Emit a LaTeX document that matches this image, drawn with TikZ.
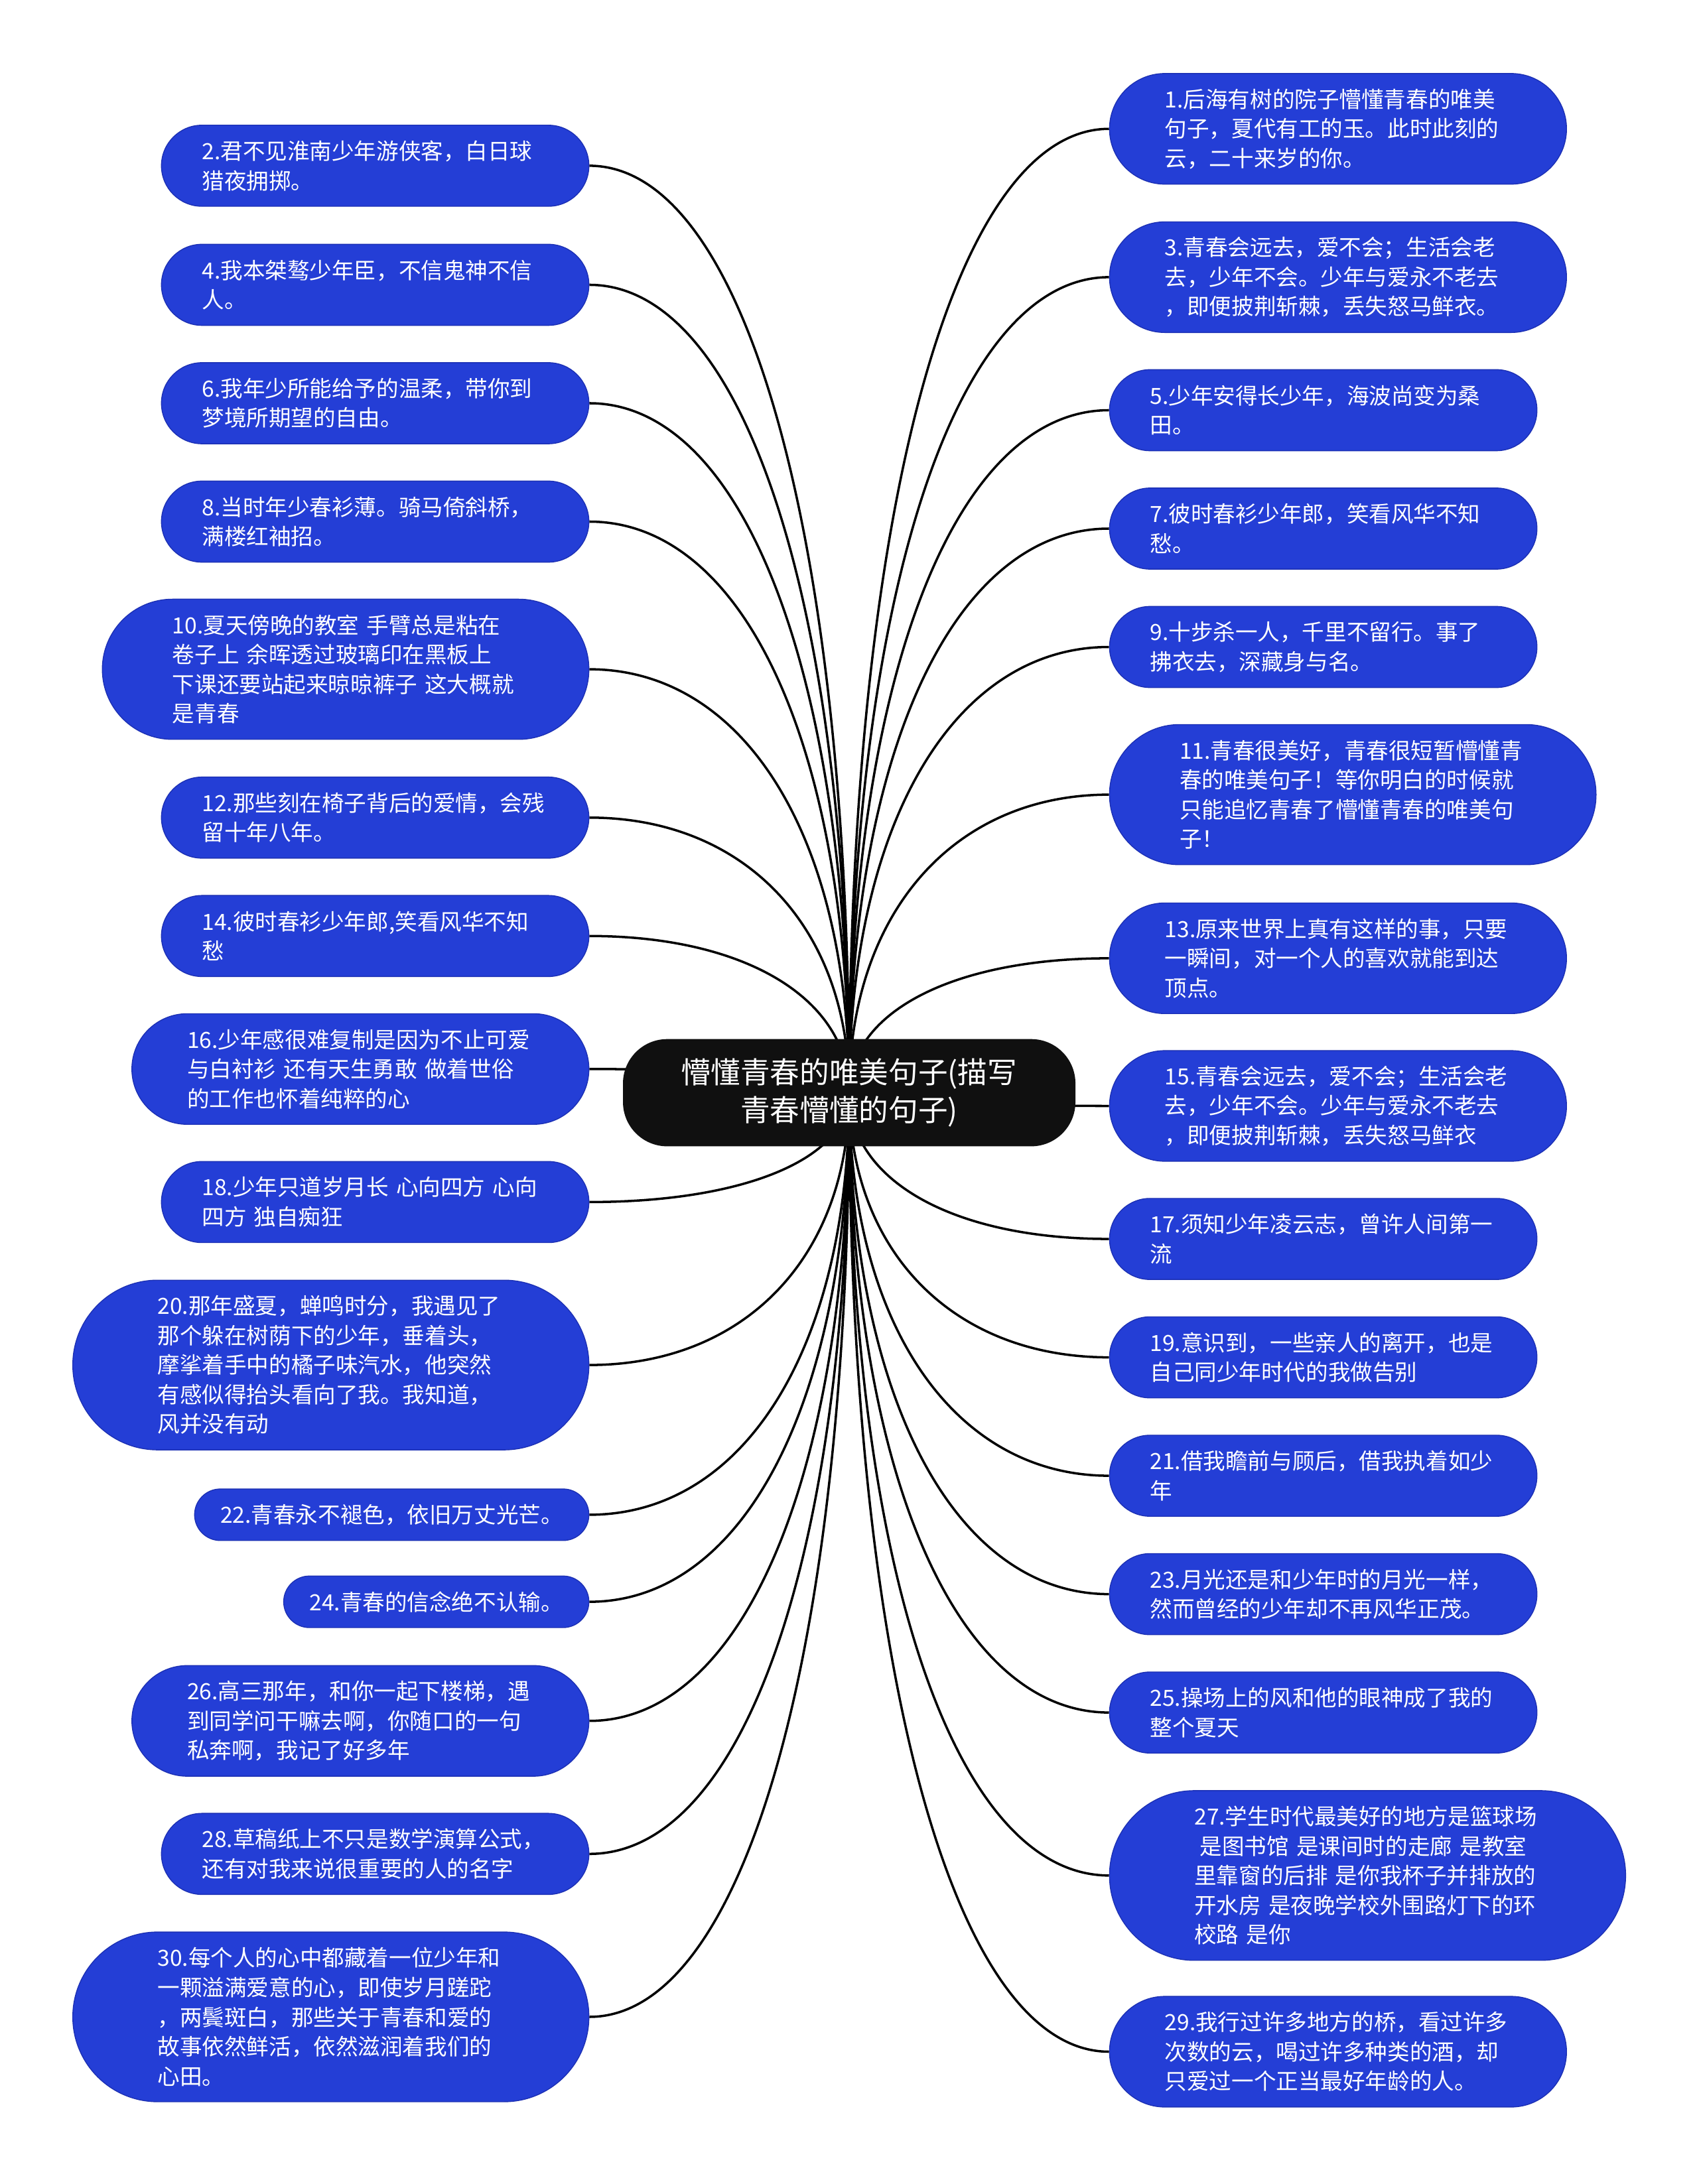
\documentclass[tikz,border=0pt]{standalone}
\usepackage{fontspec}
\setmainfont{Noto Sans CJK SC}
\usetikzlibrary{calc,backgrounds}
\definecolor{leafblue}{RGB}{36,62,214}
\definecolor{leafedge}{RGB}{28,48,180}
\definecolor{rootblack}{RGB}{16,16,16}
\tikzset{
	leaf/.style={fill=leafblue, draw=leafedge, line width=0.4pt, text=white,
		font=\fontsize{9.55pt}{12.67pt}\selectfont, align=left, inner ysep=0pt,
		minimum height={22.1pt+(#1-1)*12.67pt},
		inner xsep={(22.1pt+(#1-1)*12.67pt)/2},
		rounded corners={(22.1pt+(#1-1)*12.67pt)/2}
	},
	wide leaf/.style={leaf=#1, text width=148.5pt},
	root/.style={fill=rootblack, text=white, align=center, inner sep=0pt,
		font=\fontsize{12.7pt}{16.1pt}\selectfont,
		minimum width=194pt, minimum height=46pt, rounded corners=19pt
	},
	link/.style={line width=1pt, black}
}

\begin{document}
\begin{tikzpicture}[x=0.021cm,y=-0.021cm]
		\useasboundingbox (0,0) rectangle (1219,1568);
		\node[root] (root) at (609.5,784.5) {懵懂青春的唯美句子(描写\\青春懵懂的句子)};
		% left side
		\node[wide leaf=2,anchor=east] (l2) at (423,119) {2.君不见淮南少年游侠客，白日球\\猎夜拥掷。};
		\node[wide leaf=2,anchor=east] (l4) at (423,204.5) {4.我本桀骜少年臣，不信鬼神不信\\人。};
		\node[wide leaf=2,anchor=east] (l6) at (423,289.5) {6.我年少所能给予的温柔，带你到\\梦境所期望的自由。};
		\node[wide leaf=2,anchor=east] (l8) at (423,374.5) {8.当时年少春衫薄。骑马倚斜桥，\\满楼红袖招。};
		\node[wide leaf=4,anchor=east] (l10) at (423,480.5) {10.夏天傍晚的教室 手臂总是粘在\\卷子上 余晖透过玻璃印在黑板上\\下课还要站起来晾晾裤子 这大概就\\是青春};
		\node[wide leaf=2,anchor=east] (l12) at (423,587) {12.那些刻在椅子背后的爱情，会残\\留十年八年。};
		\node[wide leaf=2,anchor=east] (l14) at (423,672) {14.彼时春衫少年郎,笑看风华不知\\愁};
		\node[wide leaf=3,anchor=east] (l16) at (423,767.5) {16.少年感很难复制是因为不止可爱\\与白衬衫 还有天生勇敢 做着世俗\\的工作也怀着纯粹的心};
		\node[wide leaf=2,anchor=east] (l18) at (423,863) {18.少年只道岁月长 心向四方 心向\\四方 独自痴狂};
		\node[wide leaf=5,anchor=east] (l20) at (423,980) {20.那年盛夏，蝉鸣时分，我遇见了\\那个躲在树荫下的少年，垂着头，\\摩挲着手中的橘子味汽水，他突然\\有感似得抬头看向了我。我知道，\\风并没有动};
		\node[leaf=1,anchor=east] (l22) at (423,1087.5) {22.青春永不褪色，依旧万丈光芒。};
		\node[leaf=1,anchor=east] (l24) at (423,1150) {24.青春的信念绝不认输。};
		\node[wide leaf=3,anchor=east] (l26) at (423,1235.5) {26.高三那年，和你一起下楼梯，遇\\到同学问干嘛去啊，你随口的一句\\私奔啊，我记了好多年};
		\node[wide leaf=2,anchor=east] (l28) at (423,1331) {28.草稿纸上不只是数学演算公式，\\还有对我来说很重要的人的名字};
		\node[wide leaf=5,anchor=east] (l30) at (423,1448) {30.每个人的心中都藏着一位少年和\\一颗溢满爱意的心，即使岁月蹉跎\\，两鬓斑白，那些关于青春和爱的\\故事依然鲜活，依然滋润着我们的\\心田。};
		% right side
		\node[wide leaf=3,anchor=west] (r1) at (796,92.5) {1.后海有树的院子懵懂青春的唯美\\句子，夏代有工的玉。此时此刻的\\云，二十来岁的你。};
		\node[wide leaf=3,anchor=west] (r3) at (796,199) {3.青春会远去，爱不会；生活会老\\去，少年不会。少年与爱永不老去\\，即便披荆斩棘，丢失怒马鲜衣。};
		\node[wide leaf=2,anchor=west] (r5) at (796,294.5) {5.少年安得长少年，海波尚变为桑\\田。};
		\node[wide leaf=2,anchor=west] (r7) at (796,379.5) {7.彼时春衫少年郎，笑看风华不知\\愁。};
		\node[wide leaf=2,anchor=west] (r9) at (796,464.5) {9.十步杀一人，千里不留行。事了\\拂衣去，深藏身与名。};
		\node[wide leaf=4,anchor=west] (r11) at (796,570.5) {11.青春很美好，青春很短暂懵懂青\\春的唯美句子！等你明白的时候就\\只能追忆青春了懵懂青春的唯美句\\子！};
		\node[wide leaf=3,anchor=west] (r13) at (796,688) {13.原来世界上真有这样的事，只要\\一瞬间，对一个人的喜欢就能到达\\顶点。};
		\node[wide leaf=3,anchor=west] (r15) at (796,794) {15.青春会远去，爱不会；生活会老\\去，少年不会。少年与爱永不老去\\，即便披荆斩棘，丢失怒马鲜衣};
		\node[wide leaf=2,anchor=west] (r17) at (796,889.5) {17.须知少年凌云志，曾许人间第一\\流};
		\node[wide leaf=2,anchor=west] (r19) at (796,974.5) {19.意识到，一些亲人的离开，也是\\自己同少年时代的我做告别};
		\node[wide leaf=2,anchor=west] (r21) at (796,1059.5) {21.借我瞻前与顾后，借我执着如少\\年};
		\node[wide leaf=2,anchor=west] (r23) at (796,1144.5) {23.月光还是和少年时的月光一样，\\然而曾经的少年却不再风华正茂。};
		\node[wide leaf=2,anchor=west] (r25) at (796,1229.5) {25.操场上的风和他的眼神成了我的\\整个夏天};
		\node[wide leaf=5,anchor=west] (r27) at (796,1346.5) {27.学生时代最美好的地方是篮球场\\\hspace*{0.25em}是图书馆 是课间时的走廊 是教室\\里靠窗的后排 是你我杯子并排放的\\开水房 是夜晚学校外围路灯下的环\\校路 是你};
		\node[wide leaf=3,anchor=west] (r29) at (796,1473) {29.我行过许多地方的桥，看过许多\\次数的云，喝过许多种类的酒，却\\只爱过一个正当最好年龄的人。};
		% links
		\begin{scope}[on background layer]
			\foreach \i in {2,4,...,30}
			\draw[link] (root.center) .. controls ($(root.center)!0.6!(root.center |- l\i.east)$)
			and ($(l\i.east)!0.6!(l\i.east -| root.center)$) .. (l\i.east);
			\foreach \i in {1,3,...,29}
			\draw[link] (root.center) .. controls ($(root.center)!0.6!(root.center |- r\i.west)$)
			and ($(r\i.west)!0.6!(r\i.west -| root.center)$) .. (r\i.west);
		\end{scope}
\end{tikzpicture}
\end{document}
